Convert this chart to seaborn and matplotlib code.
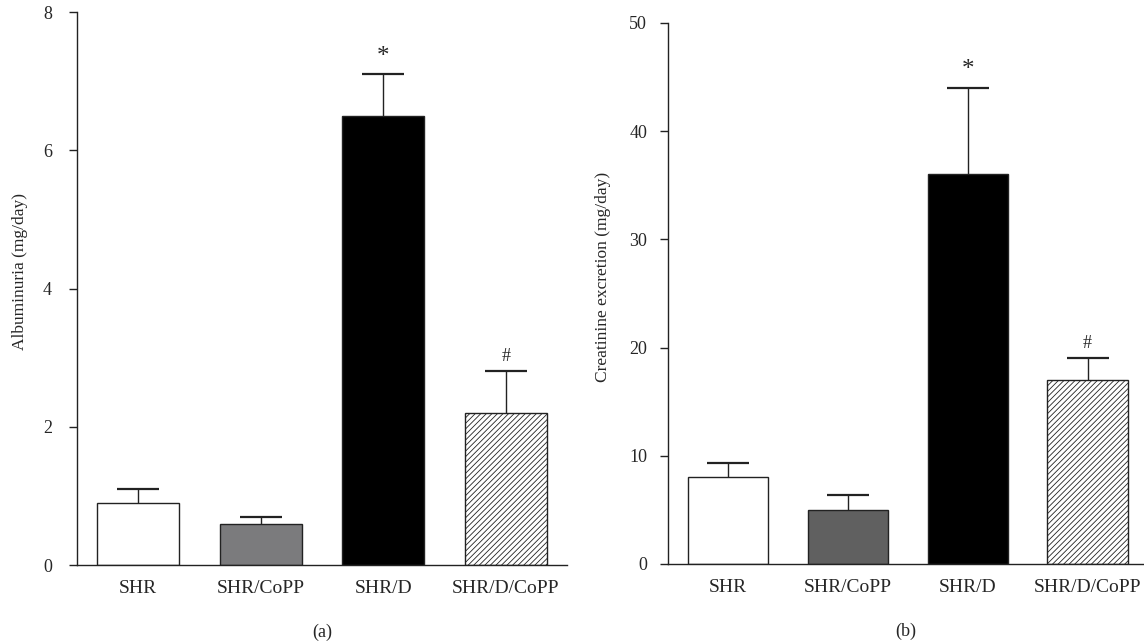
import numpy as np
import pandas as pd
import matplotlib
matplotlib.use("Agg")
import matplotlib.pyplot as plt
import seaborn as sns

# data
groups = ["SHR", "SHR/CoPP", "SHR/D", "SHR/D/CoPP"]
albumin_mean = [0.9, 0.6, 6.5, 2.2]
albumin_sem = [0.2, 0.1, 0.6, 0.6]
creat_mean = [8.0, 5.0, 36.0, 17.0]
creat_sem = [1.3, 1.4, 8.0, 2.0]
albumin_marks = ["", "", "*", "#"]
creat_marks = ["", "", "*", "#"]

sns.set_theme(style="white")
plt.rcParams["font.family"] = ["Liberation Serif", "DejaVu Serif"]
plt.rcParams["hatch.linewidth"] = 0.6
plt.rcParams["hatch.color"] = "#555555"

fig = plt.figure(figsize=(11.44, 6.42), dpi=100)
ax1 = fig.add_axes([0.0673, 0.1199, 0.4283, 0.8614])
ax2 = fig.add_axes([0.5839, 0.1215, 0.4161, 0.8427])


def panel(ax, means, sems, marks, colors, ylabel, ymax, ystep, letter, ypad, labx):
    df = pd.DataFrame({"group": groups, "value": means})
    sns.barplot(data=df, x="group", y="value", hue="group", palette=colors,
                width=0.67, edgecolor="#222222", linewidth=1.0,
                legend=False, ax=ax, errorbar=None)
    for i, patch in enumerate(ax.patches):
        if i == 3:
            patch.set_hatch("//////")
    eb = ax.errorbar(range(len(groups)), means,
                     yerr=[np.zeros(len(means)), sems],
                     fmt="none", ecolor="#222222", elinewidth=1.0, capsize=15,
                     capthick=1.6, zorder=1)
    # only the upper cap
    eb[1][0].set_visible(False)
    for i, m in enumerate(marks):
        if m:
            ax.text(i, means[i] + sems[i] + ymax * 0.012, m, ha="center",
                    va="bottom", fontsize=18 if m == "*" else 13)
    ax.set_ylim(0, ymax)
    ax.set_yticks(np.arange(0, ymax + 0.1, ystep))
    ax.set_ylabel(ylabel, fontsize=12.5)
    ax.yaxis.set_label_coords(labx, 0.53)
    ax.set_xlabel(letter, fontsize=13, labelpad=19)
    for s in ["top", "right"]:
        ax.spines[s].set_visible(False)
    for s in ["left", "bottom"]:
        ax.spines[s].set_color("#222222")
        ax.spines[s].set_linewidth(1.0)
    ax.tick_params(axis="y", left=True, length=6, width=1.0, color="#222222",
                   labelsize=13, pad=ypad)
    ax.tick_params(axis="x", bottom=False, labelsize=14, pad=5)


panel(ax1, albumin_mean, albumin_sem, albumin_marks,
      ["#ffffff", "#7b7b7d", "#000000", "#ffffff"],
      "Albuminuria (mg/day)", 8, 2, "(a)", 12, -0.1)
ax1.set_xlim(-0.5, 3.5)

panel(ax2, creat_mean, creat_sem, creat_marks,
      ["#ffffff", "#606060", "#000000", "#ffffff"],
      "Creatinine excretion (mg/day)", 50, 10, "(b)", 9, -0.12)
ax2.set_xlim(-0.5, 3.47)

fig.savefig("out.png", dpi=100)
